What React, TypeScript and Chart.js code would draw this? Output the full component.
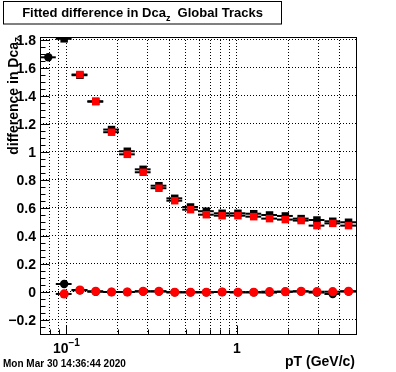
import React, { useEffect, useRef } from "react";
import { Chart, registerables } from "chart.js";

Chart.register(...registerables);

// ---- data ----
const binEdges = [0.07, 0.08666, 0.10728, 0.1328, 0.1644, 0.20352, 0.25194, 0.31189, 0.3861, 0.47797, 0.5917, 0.73249, 0.90678, 1.12254, 1.38965, 1.72031, 2.12965, 2.63639, 3.26371, 4.0403, 5.0];
const binCenters = [0.0783, 0.097, 0.12, 0.1486, 0.184, 0.2277, 0.2819, 0.349, 0.432, 0.5348, 0.6621, 0.8196, 1.0147, 1.2561, 1.555, 1.925, 2.383, 2.95, 3.652, 4.521];

const blackSquares = [null, 1.808, 1.548, 1.362, 1.16, 1.005, 0.876, 0.759, 0.669, 0.607, 0.577, 0.562, 0.562, 0.559, 0.55, 0.543, 0.524, 0.514, 0.505, 0.498];
const redSquares = [null, null, 1.553, 1.359, 1.141, 0.983, 0.855, 0.741, 0.652, 0.588, 0.552, 0.545, 0.545, 0.538, 0.524, 0.517, 0.51, 0.474, 0.49, 0.474];
const blackCircles = [1.676, 0.057, 0.012, 0.002, 0.0, 0.0, 0.004, 0.004, -0.002, -0.002, -0.002, 0.0, -0.002, -0.002, -0.004, 0.002, 0.004, -0.004, -0.014, 0.004];
const redCircles = [null, -0.014, 0.014, 0.005, 0.0, 0.0, 0.005, 0.005, -0.002, -0.002, -0.002, 0.0, -0.002, -0.002, 0.002, 0.002, 0.005, 0.002, 0.002, 0.005];

const yTickValues = [-0.2, 0, 0.2, 0.4, 0.6, 0.8, 1, 1.2, 1.4, 1.6, 1.8];
const xGridValues = [0.08, 0.09, 0.1, 0.2, 0.3, 0.4, 0.5, 0.6, 0.7, 0.8, 0.9, 1, 2, 3, 4];
const xMajorValues = [0.1, 1];
const xLabelBases = ["10", "1"];
const xLabelExps = ["\u22121", ""];

const titleMain = "Fitted difference in Dca";
const titleSub = "z";
const titleRest = "  Global Tracks";
const yTitleMain = "difference in Dca";
const yTitleSub = "z";
const xTitle = "pT (GeV/c)";
const dateText = "Mon Mar 30 14:36:44 2020";

const FONT = '"Liberation Sans", Arial, Helvetica, sans-serif';

function toPoints(vals: (number | null)[]) {
  const out: any[] = [];
  vals.forEach((v, i) => {
    if (v === null) return;
    out.push({ x: binCenters[i], y: v, lo: binEdges[i], hi: binEdges[i + 1] });
  });
  return out;
}

const rootPlugin = {
  id: "rootStyle",
  beforeDatasetDraw(chart: any, args: any) {
    const ds = chart.data.datasets[args.index];
    const xs = chart.scales.x;
    const ys = chart.scales.y;
    const a = chart.chartArea;
    const ctx = chart.ctx;
    ctx.save();
    ctx.beginPath();
    ctx.rect(a.left, a.top, a.right - a.left, a.bottom - a.top);
    ctx.clip();
    ctx.strokeStyle = "#000";
    ctx.lineWidth = 2;
    ds.data.forEach((p: any) => {
      const y = ys.getPixelForValue(p.y);
      ctx.beginPath();
      ctx.moveTo(xs.getPixelForValue(p.lo), y);
      ctx.lineTo(xs.getPixelForValue(p.hi), y);
      ctx.stroke();
    });
    ctx.restore();
  },
  afterDraw(chart: any) {
    const ctx = chart.ctx;
    const a = chart.chartArea;
    const xs = chart.scales.x;
    const ys = chart.scales.y;
    ctx.save();
    // frame
    ctx.strokeStyle = "#000";
    ctx.lineWidth = 1;
    ctx.strokeRect(Math.round(a.left) + 0.5, Math.round(a.top) + 0.5, Math.round(a.right - a.left), Math.round(a.bottom - a.top));
    // y ticks
    const lx = Math.round(a.left) + 0.5;
    ctx.beginPath();
    for (let k = -6; k <= 36; k++) {
      const v = k * 0.05;
      if (v < ys.min - 1e-9 || v > ys.max + 1e-9) continue;
      const major = k % 4 === 0;
      const y = Math.round(ys.getPixelForValue(v)) + 0.5;
      ctx.moveTo(lx, y);
      ctx.lineTo(lx + (major ? 9 : 5), y);
    }
    // x ticks
    const by = Math.round(a.bottom) + 0.5;
    xGridValues.forEach((v) => {
      const x = Math.round(xs.getPixelForValue(v)) + 0.5;
      const major = xMajorValues.indexOf(v) >= 0;
      ctx.moveTo(x, by);
      ctx.lineTo(x, by - (major ? 9 : 5));
    });
    ctx.stroke();

    ctx.fillStyle = "#000";
    // x labels
    xMajorValues.forEach((v, i) => {
      const x = xs.getPixelForValue(v);
      ctx.font = `bold 14px ${FONT}`;
      const wb = ctx.measureText(xLabelBases[i]).width;
      ctx.font = `bold 10px ${FONT}`;
      const we = xLabelExps[i] ? ctx.measureText(xLabelExps[i]).width : 0;
      const x0 = x - (wb + we) / 2;
      ctx.textAlign = "left";
      ctx.textBaseline = "alphabetic";
      ctx.font = `bold 14px ${FONT}`;
      ctx.fillText(xLabelBases[i], x0, 353);
      if (xLabelExps[i]) {
        ctx.font = `bold 10px ${FONT}`;
        ctx.fillText(xLabelExps[i], x0 + wb, 346);
      }
    });

    // x title
    ctx.font = `bold 14px ${FONT}`;
    ctx.textAlign = "right";
    ctx.fillText(xTitle, 355, 366);

    // y title (rotated)
    ctx.save();
    ctx.translate(18, 37);
    ctx.rotate(-Math.PI / 2);
    ctx.font = `bold 14px ${FONT}`;
    const wm = ctx.measureText(yTitleMain).width;
    ctx.font = `bold 10px ${FONT}`;
    const ws = ctx.measureText(yTitleSub).width;
    ctx.textAlign = "left";
    ctx.font = `bold 14px ${FONT}`;
    ctx.fillText(yTitleMain, -(wm + ws), 0);
    ctx.font = `bold 10px ${FONT}`;
    ctx.fillText(yTitleSub, -ws, 3);
    ctx.restore();

    // title box
    ctx.fillStyle = "#fff";
    ctx.fillRect(3.5, 1.5, 278, 22.5);
    ctx.strokeRect(3.5, 1.5, 278, 22.5);
    ctx.fillStyle = "#000";
    ctx.font = `bold 13px ${FONT}`;
    const t1 = ctx.measureText(titleMain).width;
    const t3 = ctx.measureText(titleRest).width;
    ctx.font = `bold 9px ${FONT}`;
    const t2 = ctx.measureText(titleSub).width;
    const tx = 3.5 + (278 - (t1 + t2 + t3)) / 2;
    ctx.textAlign = "left";
    ctx.font = `bold 13px ${FONT}`;
    ctx.fillText(titleMain, tx, 17);
    ctx.font = `bold 9px ${FONT}`;
    ctx.fillText(titleSub, tx + t1, 21);
    ctx.font = `bold 13px ${FONT}`;
    ctx.fillText(titleRest, tx + t1 + t2, 17);

    // date
    ctx.font = `bold 10px ${FONT}`;
    ctx.fillText(dateText, 3, 367);
    ctx.restore();
  },
};

export default function App() {
  const ref = useRef<HTMLCanvasElement>(null);
  useEffect(() => {
    if (!ref.current) return;
    const chart = new Chart(ref.current, {
      type: "scatter",
      data: {
        datasets: [
          { label: "red squares", data: toPoints(redSquares), pointStyle: "rect", pointRadius: 5.3, backgroundColor: "#ff0000", borderColor: "#ff0000", borderWidth: 0 },
          { label: "red circles", data: toPoints(redCircles), pointStyle: "circle", pointRadius: 4.6, backgroundColor: "#ff0000", borderColor: "#ff0000", borderWidth: 0 },
          { label: "black squares", data: toPoints(blackSquares), pointStyle: "rect", pointRadius: 5.3, backgroundColor: "#000", borderColor: "#000", borderWidth: 0 },
          { label: "black circles", data: toPoints(blackCircles), pointStyle: "circle", pointRadius: 4.2, backgroundColor: "#000", borderColor: "#000", borderWidth: 0 },
        ],
      },
      options: {
        animation: false,
        responsive: false,
        events: [],
        layout: { padding: { top: 37, right: 40, left: 0, bottom: 0 } },
        plugins: { legend: { display: false }, tooltip: { enabled: false }, title: { display: false } },
        scales: {
          x: {
            type: "logarithmic",
            min: 0.07,
            max: 5,
            afterBuildTicks: (s: any) => { s.ticks = xGridValues.map((v) => ({ value: v })); },
            afterFit: (s: any) => { s.height = 38; },
            ticks: { display: false },
            grid: { color: "#000", lineWidth: 1, drawTicks: false },
            border: { display: false, dash: [1, 2] },
          },
          y: {
            type: "linear",
            min: -0.3,
            max: 1.821,
            afterBuildTicks: (s: any) => { s.ticks = yTickValues.map((v) => ({ value: v })); },
            afterFit: (s: any) => { s.width = 40; },
            ticks: {
              color: "#000",
              padding: 4,
              labelOffset: 1,
              font: { family: FONT, size: 14, weight: "bold" },
              callback: (v: any) => {
                const n = Number(v);
                if (Math.abs(n) < 1e-9) return "0";
                const s = String(Math.round(Math.abs(n) * 10) / 10);
                return n < 0 ? "\u2212" + s : s;
              },
            },
            grid: { color: "#000", lineWidth: 1, drawTicks: false },
            border: { display: false, dash: [1, 2] },
          },
        },
      },
      plugins: [rootPlugin],
    } as any);
    return () => chart.destroy();
  }, []);
  return (
    <div style={{ position: "absolute", left: 0, top: 0, width: 396, height: 372, background: "#fff" }}>
      <canvas ref={ref} width={396} height={372} style={{ display: "block" }} />
    </div>
  );
}
